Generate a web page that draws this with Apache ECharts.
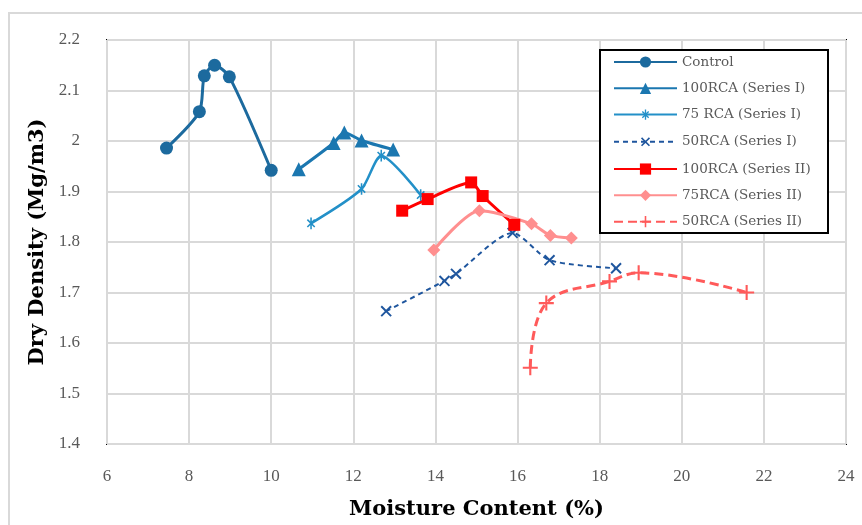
<!DOCTYPE html>
<html><head><meta charset="utf-8">
<script src="https://cdn.jsdelivr.net/npm/echarts@6/dist/echarts.min.js"></script>
<style>html,body{margin:0;padding:0;background:#fff}#c{width:862px;height:525px}</style>
</head><body><div id="c"></div>
<script>
// Moisture content (%) / dry density (Mg/m3) per mix
const controlX = [7.45, 8.25, 8.37, 8.62, 8.98, 10.0];
const controlY = [1.986, 2.058, 2.129, 2.150, 2.127, 1.942];
const rca100s1X = [10.67, 11.52, 11.78, 12.20, 12.97];
const rca100s1Y = [1.944, 1.996, 2.017, 2.001, 1.983];
const rca75s1X = [10.97, 12.20, 12.68, 13.64];
const rca75s1Y = [1.837, 1.905, 1.971, 1.893];
const rca50s1X = [12.80, 14.22, 14.50, 15.88, 16.78, 18.40];
const rca50s1Y = [1.663, 1.723, 1.737, 1.818, 1.764, 1.748];
const rca100s2X = [13.19, 13.81, 14.87, 15.15, 15.92];
const rca100s2Y = [1.862, 1.885, 1.918, 1.891, 1.834];
const rca75s2X = [13.96, 15.07, 16.34, 16.80, 17.31];
const rca75s2Y = [1.784, 1.862, 1.836, 1.813, 1.808];
const rca50s2X = [16.31, 16.70, 18.24, 18.95, 21.58];
const rca50s2Y = [1.551, 1.679, 1.722, 1.739, 1.700];
const seriesNames = ['Control', '100RCA (Series I)', '75 RCA (Series I)', '50RCA (Series I)', '100RCA (Series II)', '75RCA (Series II)', '50RCA (Series II)'];
const xTicks = [6, 8, 10, 12, 14, 16, 18, 20, 22, 24];
const yTicks = [1.4, 1.5, 1.6, 1.7, 1.8, 1.9, 2.0, 2.1, 2.2];

const pair = (xs, ys) => xs.map((x, i) => [x, ys[i]]);
const plusPath = 'path://M8.6,0 L11.4,0 L11.4,8.6 L20,8.6 L20,11.4 L11.4,11.4 L11.4,20 L8.6,20 L8.6,11.4 L0,11.4 L0,8.6 L8.6,8.6 Z';
const starPath = 'path://M8.8,1 L11.2,1 L11.2,19 L8.8,19 Z M3.49,14.81 L14.81,3.49 L16.51,5.19 L5.19,16.51 Z M14.81,16.51 L3.49,5.19 L5.19,3.49 L16.51,14.81 Z M0,0 Z M20,20 Z';

function mk(name, xs, ys, color, width, type, symbol, size, extra) {
  return Object.assign({
    name: name, type: 'line', data: pair(xs, ys), smooth: 0.25,
    symbol: symbol, symbolSize: size, symbolKeepAspect: true,
    itemStyle: { color: color },
    lineStyle: { color: color, width: width, type: type },
    emphasis: { disabled: true }, z: 3
  }, extra || {});
}

const chart = echarts.init(document.getElementById('c'));
const serif = '"Liberation Serif", "DejaVu Serif", serif';
chart.setOption({
  animation: false,
  graphic: [
    { type: 'rect', shape: { x: 9, y: 13, width: 900, height: 600 }, style: { fill: null, stroke: '#d9d9d9', lineWidth: 2 }, z: -10 },
    { type: 'rect', shape: { x: 600, y: 50, width: 228, height: 183 }, style: { fill: '#fff', stroke: '#000', lineWidth: 2 }, z: 10 }
  ],
  grid: { left: 107, right: 16, top: 40, bottom: 73, show: true, borderColor: '#000', borderWidth: 2 },
  legend: {
    orient: 'vertical', left: 613, top: 55, padding: 0, itemWidth: 63, itemHeight: 14, itemGap: 12.3,
    data: seriesNames, z: 11,
    textStyle: { fontFamily: '"DejaVu Serif", serif', fontSize: 13.5, color: '#595959' }
  },
  xAxis: {
    type: 'value', min: 6, max: 24, interval: 2,
    name: 'Moisture Content (%)', nameLocation: 'middle', nameGap: 55,
    nameTextStyle: { fontFamily: '"DejaVu Serif", serif', fontWeight: 'bold', fontSize: 21, color: '#000' },
    axisLine: { show: false }, axisTick: { show: false },
    axisLabel: { fontFamily: serif, fontSize: 17, color: '#595959', margin: 24 },
    splitLine: { lineStyle: { color: '#d9d9d9', width: 2 } }
  },
  yAxis: {
    type: 'value', min: 1.4, max: 2.2, interval: 0.1,
    name: 'Dry Density (Mg/m3)', nameLocation: 'middle', nameGap: 58,
    nameTextStyle: { fontFamily: '"DejaVu Serif", serif', fontWeight: 'bold', fontSize: 21, color: '#000' },
    axisLine: { show: false }, axisTick: { show: false },
    axisLabel: { fontFamily: serif, fontSize: 17, color: '#595959', margin: 27 },
    splitLine: { lineStyle: { color: '#d9d9d9', width: 2 } }
  },
  series: [
    mk(seriesNames[0], controlX, controlY, '#1c6a9e', 3, 'solid', 'circle', 13),
    mk(seriesNames[1], rca100s1X, rca100s1Y, '#1b77b0', 3, 'solid', 'triangle', 14),
    mk(seriesNames[2], rca75s1X, rca75s1Y, '#2390c8', 2.5, 'solid', starPath, 13),
    mk(seriesNames[3], rca50s1X, rca50s1Y, '#1f569e', 2, [5, 4], plusPath, 14, { symbolRotate: 45 }),
    mk(seriesNames[4], rca100s2X, rca100s2Y, '#ff0000', 3, 'solid', 'rect', 12),
    mk(seriesNames[5], rca75s2X, rca75s2Y, '#ff8f8f', 3, 'solid', 'diamond', 13),
    mk(seriesNames[6], rca50s2X, rca50s2Y, '#ff5a5a', 3, [9, 5], plusPath, 15, { smooth: 0.4 })
  ]
});
</script></body></html>
